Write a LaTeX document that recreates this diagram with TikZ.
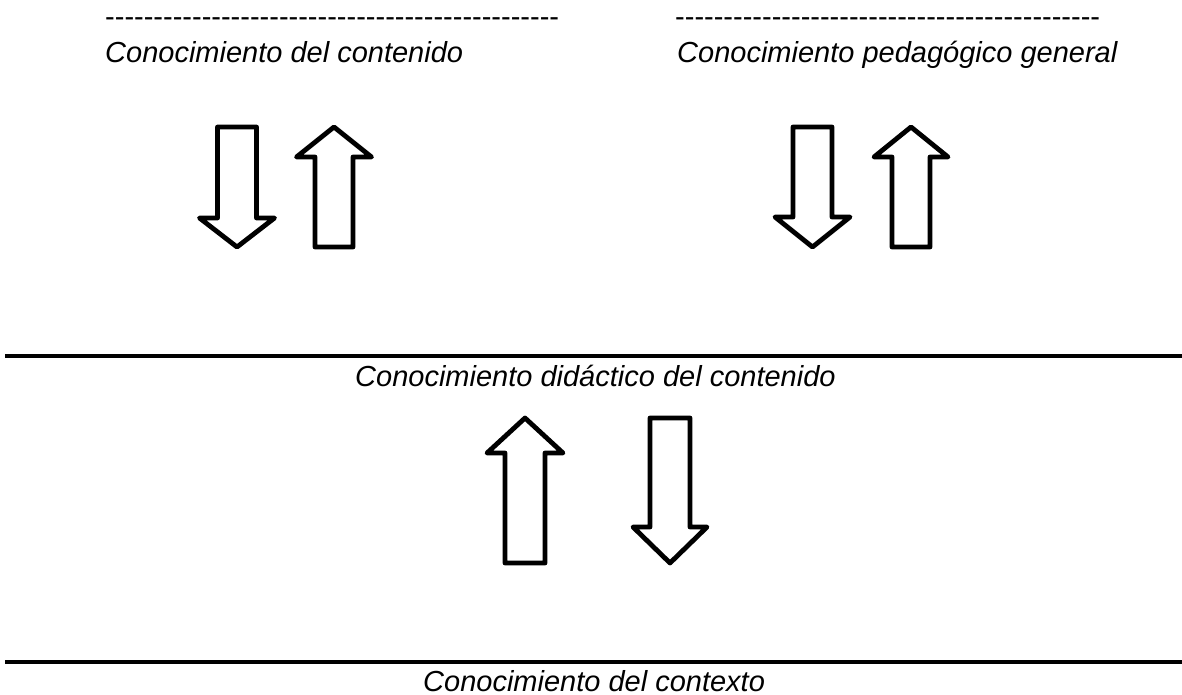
\documentclass[tikz,border=0pt]{standalone}
\usepackage{fontspec}
\setmainfont{Liberation Sans}
\newcommand\DashRun[1]{\foreach \k in {1,...,#1}{-\kern0pt}}
\newcommand\DownArr[6]{\draw[arrshape] (#1-#5,#2) -- (#1+#5,#2) -- (#1+#5,#4) -- (#1+#6,#4) -- (#1,#3) -- (#1-#6,#4) -- (#1-#5,#4) -- cycle;}
\newcommand\UpArr[6]{\draw[arrshape] (#1-#5,#3) -- (#1+#5,#3) -- (#1+#5,#4) -- (#1+#6,#4) -- (#1,#2) -- (#1-#6,#4) -- (#1-#5,#4) -- cycle;}
\begin{document}
\begin{tikzpicture}[x=1pt,y=-1pt,
  arrshape/.style={draw=black,line width=4.8pt,line join=round,fill=white},
  rule/.style={line width=3.3pt},
  lbl/.style={inner sep=0pt,anchor=base west,font=\fontsize{29}{34}\selectfont\itshape},
  dsh/.style={inner sep=0pt,anchor=base west,font=\fontsize{29}{34}\selectfont}]
\useasboundingbox (0,0) rectangle (1182,695);
% dashed text lines
\node[dsh] (d1) at (105,27) {\DashRun{47}};
\node[dsh] (d2) at (675,27) {\DashRun{44}};
% top labels
\node[lbl] (cc) at (105,63) {Conocimiento del contenido};
\node[lbl] (cpg) at (677,63) {Conocimiento pedagógico general};
% top arrows left
\DownArr{237}{127}{247}{218}{19.5}{37.5}
\UpArr{334}{127}{247}{157}{19}{37.5}
% top arrows right
\DownArr{812.5}{127}{247}{217}{19.5}{37.5}
\UpArr{911}{127}{247}{157}{19}{37}
% middle rule and label
\coordinate (m1) at (5,356);
\coordinate (m2) at (1182,356);
\draw[rule] (m1) -- (m2);
\node[lbl] (cdc) at (355,386) {Conocimiento didáctico del contenido};
% middle arrows
\UpArr{525}{418}{563}{453}{20}{38}
\DownArr{670}{418}{563}{527}{20}{37}
% bottom rule and label
\coordinate (b1) at (5,662);
\coordinate (b2) at (1182,662);
\draw[rule] (b1) -- (b2);
\node[lbl] (cx) at (423,691) {Conocimiento del contexto};
\end{tikzpicture}
\end{document}
